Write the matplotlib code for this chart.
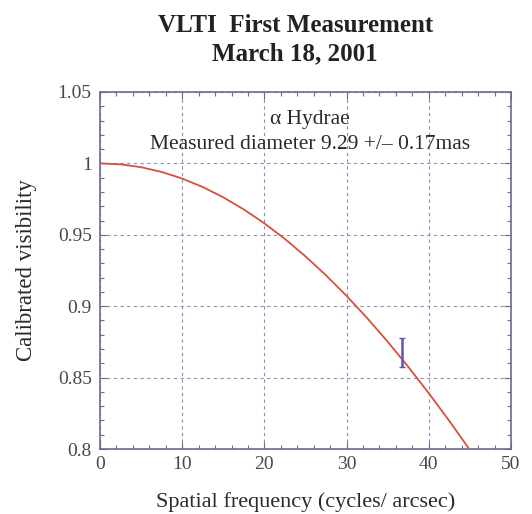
import matplotlib
matplotlib.use("Agg")
import matplotlib.pyplot as plt
from matplotlib.ticker import MultipleLocator

# Model curve (uniform disk fit)
model_freq = [0, 2.5, 5, 7.5, 10, 12.5, 15, 17.5, 20, 22.5, 25, 27.5, 30,
              32.5, 35, 37.5, 40, 42.5, 45]
model_vis = [1.0, 0.99933, 0.99734, 0.99402, 0.98939, 0.98346, 0.97623,
             0.96775, 0.95801, 0.94706, 0.93491, 0.92161, 0.90719, 0.89168,
             0.87512, 0.85756, 0.83905, 0.81963, 0.79935]

# Measurement
meas_freq = [36.8]
meas_vis = [0.8676]
meas_err = [0.0102]

xticks = [0, 10, 20, 30, 40, 50]
yticks = [0.8, 0.85, 0.9, 0.95, 1.0, 1.05]
ytick_labels = ["0.8", "0.85", "0.9", "0.95", "1", "1.05"]

plt.rcParams['font.family'] = ['Liberation Serif', 'DejaVu Serif']

fig = plt.figure(figsize=(5.32, 5.14), dpi=100)
ax = fig.add_axes([100/532, 65/514, 411/532, 357/514])

frame_c = "#6a6a98"
grid_c = "#8e8eb8"
text_c = "#2a2a2a"

ax.plot(model_freq, model_vis, color="#d8503a", lw=1.3, clip_on=True)
ax.errorbar(meas_freq, meas_vis, yerr=meas_err, fmt='none', ecolor="#5a5aa8",
            elinewidth=1.8, capsize=2, capthick=1.0)

ax.set_xlim(0, 50)
ax.set_ylim(0.8, 1.05)
ax.set_xticks(xticks)
ax.set_xticklabels([str(v) for v in xticks])
ax.set_yticks(yticks)
ax.set_yticklabels(ytick_labels)
ax.xaxis.set_minor_locator(MultipleLocator(2))
ax.yaxis.set_minor_locator(MultipleLocator(0.01))
ax.tick_params(which='both', direction='in', top=True, right=True, colors=frame_c,
               labelcolor="#484848", labelsize=14)
ax.tick_params(which='major', length=5, width=0.8)
ax.tick_params(which='minor', length=3, width=0.8)
ax.tick_params(axis='x', pad=5)
ax.tick_params(axis='y', pad=6)
for s in ax.spines.values():
    s.set_color(frame_c)
    s.set_linewidth(1.2)
ax.grid(True, which='major', color=grid_c, linestyle=(0, (3, 3)), lw=0.8)

ax.set_xlabel("Spatial frequency (cycles/ arcsec)", fontsize=16, color=text_c, labelpad=14)
ax.set_ylabel("Calibrated visibility", fontsize=16.5, color=text_c, labelpad=15)

ax.text(25.5, 1.0305, "α Hydrae", ha='center', va='center', fontsize=15.5, color=text_c)
ax.text(25.5, 1.0135, "Measured diameter 9.29 +/– 0.17mas", ha='center', va='center',
        fontsize=15.5, color=text_c)

fig.text(0.555, 1 - 25/514, "VLTI  First Measurement", ha='center', va='center',
         fontsize=18, fontweight='bold', color="#222222")
fig.text(0.555, 1 - 54/514, "March 18, 2001", ha='center', va='center',
         fontsize=18, fontweight='bold', color="#222222")

fig.savefig("out.png", dpi=100)
